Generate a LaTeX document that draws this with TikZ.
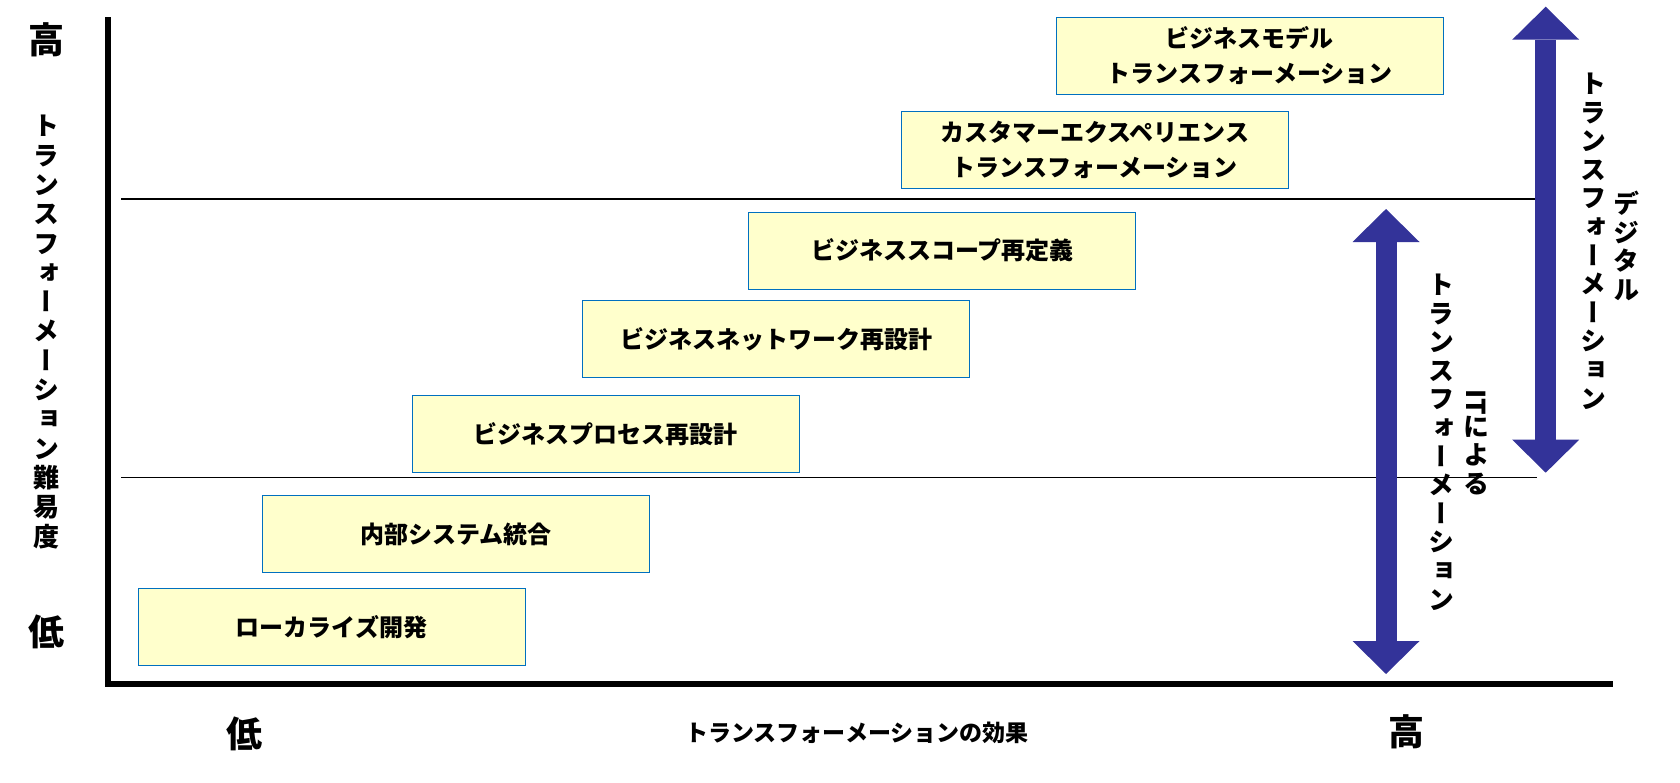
\documentclass[tikz,border=0pt]{standalone}
\usepackage{fontspec}
\setmainfont{Noto Sans CJK JP}
\newfontfamily\tatefont{Noto Sans CJK JP}[RawFeature=+vert]
\usepackage{xcolor}
\usepackage{tikz}
\usetikzlibrary{arrows.meta}
\definecolor{stagefill}{HTML}{FFFFCC}
\definecolor{stageline}{HTML}{0070C0}
\definecolor{dxblue}{HTML}{333399}

\begin{document}
\begin{tikzpicture}[x=1pt,y=-1pt,
  stage/.style={draw=stageline, fill=stagefill, line width=1.2pt, minimum width=387pt,
    minimum height=77pt, inner sep=0pt, align=center, font=\bfseries\fontsize{24}{35}\selectfont},
  tate/.style={align=center, inner sep=0pt, font=\tatefont\bfseries\fontsize{26}{28.6}\selectfont},
  hilo/.style={inner sep=0pt, font=\bfseries\fontsize{36}{40}\selectfont},
  bigarrow/.style={dxblue, line width=21pt,
    arrows={Triangle[width=67pt,length=33pt,line width=0pt]-Triangle[width=67pt,length=33pt,line width=0pt]}}]
% page = 1680 x 782, coordinates (y grows downwards)
\useasboundingbox (0,0) rectangle (1680,782);
\draw[line width=5.8pt] (108,17) -- (108,684) -- (1613,684);
\draw[line width=1.3pt] (121,199) -- (1537,199);
\draw[line width=1.3pt] (121,477.5) -- (1537,477.5);
% stages, from easy to hard
\node[stage] (ld) at (331.6,626.8) {ローカライズ開発};
\node[stage] (is) at (455.9,534.1) {内部システム統合};
\node[stage] (bp) at (605.8,433.7) {ビジネスプロセス再設計};
\node[stage] (bn) at (776.2,339.1) {ビジネスネットワーク再設計};
\node[stage] (bs) at (942.3,250.7) {ビジネススコープ再定義};
\node[stage] (cx) at (1094.8,150.3) {カスタマーエクスペリエンス\\トランスフォーメーション};
\node[stage] (bm) at (1249.8,55.7) {ビジネスモデル\\トランスフォーメーション};
% axis labels
\node[hilo] (yhi) at (46,40) {高};
\node[hilo] (ylo) at (46,632) {低};
\node[hilo] (xlo) at (244,734) {低};
\node[hilo] (xhi) at (1406,732) {高};
\node[font=\bfseries\fontsize{23}{26}\selectfont, inner sep=0pt] (xlbl) at (857,733)
  {トランスフォーメーションの効果};
\node[tate, font=\tatefont\bfseries\fontsize{26}{29.3}\selectfont] (ylbl) at (46,332)
  {ト\\ラ\\ン\\ス\\フ\\ォ\\ー\\メ\\ー\\シ\\ョ\\ン\\難\\易\\度};
% the two ranges
\coordinate (ittop) at (1386,209);
\coordinate (itbot) at (1386,674);
\coordinate (dxtop) at (1545.7,6.7);
\coordinate (dxbot) at (1545.7,472.7);
\draw[bigarrow] (itbot) -- (ittop);
\draw[bigarrow] (dxbot) -- (dxtop);
\node[tate] (ita) at (1441,442) {ト\\ラ\\ン\\ス\\フ\\ォ\\ー\\メ\\ー\\シ\\ョ\\ン};
\node[tate] (itb) at (1476,442) {\rotatebox{-90}{IT}\\に\\よ\\る};
\node[tate] (dxa) at (1593,241) {ト\\ラ\\ン\\ス\\フ\\ォ\\ー\\メ\\ー\\シ\\ョ\\ン};
\node[tate] (dxb) at (1626,246) {デ\\ジ\\タ\\ル};
\end{tikzpicture}
\end{document}
